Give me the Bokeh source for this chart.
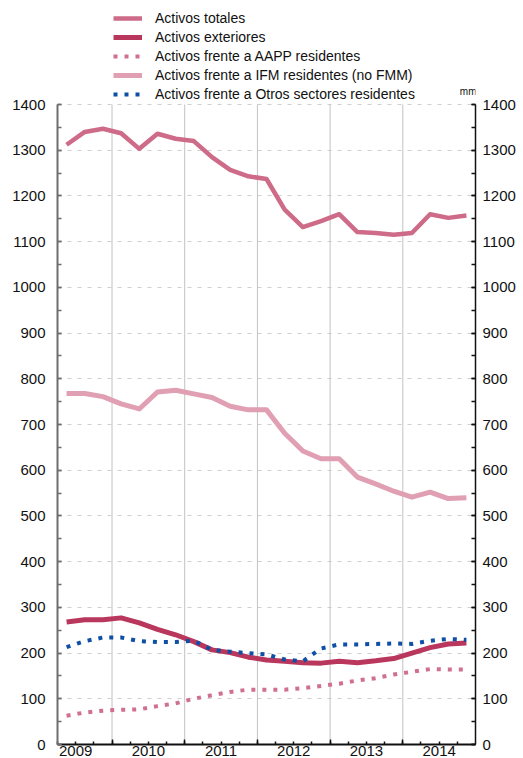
from bokeh.plotting import figure
from bokeh.models import (Range1d, LinearAxis, FixedTicker, Legend, LegendItem, Label)
from bokeh.embed import file_html
from bokeh.resources import INLINE

# ---- data (mm EUR), quarterly 2009Q2 .. 2014Q4 ----
periods = ["2009Q2", "2009Q3", "2009Q4",
           "2010Q1", "2010Q2", "2010Q3", "2010Q4",
           "2011Q1", "2011Q2", "2011Q3", "2011Q4",
           "2012Q1", "2012Q2", "2012Q3", "2012Q4",
           "2013Q1", "2013Q2", "2013Q3", "2013Q4",
           "2014Q1", "2014Q2", "2014Q3", "2014Q4"]
activos_totales = [1312, 1340, 1347, 1337, 1303, 1336, 1325, 1320, 1285, 1257, 1243, 1237,
                   1170, 1132, 1145, 1160, 1121, 1119, 1115, 1119, 1160, 1152, 1157]
activos_exteriores = [268, 273, 273, 277, 266, 252, 240, 225, 207, 201, 191, 185,
                      182, 179, 178, 182, 179, 183, 188, 200, 212, 220, 222]
activos_aapp = [63, 70, 74, 76, 77, 84, 90, 100, 108, 115, 120, 120,
                120, 123, 128, 133, 140, 145, 153, 159, 165, 164, 164]
activos_ifm = [768, 768, 761, 745, 734, 771, 775, 767, 759, 740, 732, 732,
               681, 642, 625, 625, 585, 570, 554, 541, 552, 538, 540]
activos_otros = [213, 226, 234, 234, 226, 224, 224, 227, 207, 203, 200, 197,
                 186, 182, 210, 219, 219, 220, 221, 220, 227, 231, 229]
years = [2009, 2010, 2011, 2012, 2013, 2014]
y_ticks = list(range(0, 1401, 100))

labels = ["Activos totales", "Activos exteriores", "Activos frente a AAPP residentes",
          "Activos frente a IFM residentes (no FMM)", "Activos frente a Otros sectores residentes"]

# quarter -> mid-quarter position in years
x = [int(p[:4]) + (int(p[5]) - 0.5) / 4 for p in periods]
x_start = x[0] - 0.125
x_end = x[-1] + 0.125
y_min, y_max = y_ticks[0], y_ticks[-1]

FONT = "Liberation Sans"

# frame extends above the value axis to host the legend
p = figure(frame_width=418, frame_height=736, output_backend="svg", toolbar_location=None,
           x_range=Range1d(x_start, x_end), y_range=Range1d(y_min, 1610),
           min_border_left=57, min_border_right=46, min_border_top=8, min_border_bottom=0,
           x_axis_location=None, y_axis_location=None)
p.outline_line_color = None
p.background_fill_color = "white"
p.border_fill_color = "white"

# grids: dashed horizontal lines, solid vertical year separators limited to the value area
p.xgrid.visible = False
p.ygrid.ticker = FixedTicker(ticks=y_ticks[1:])
p.ygrid.grid_line_color = "#cfcfcf"
p.ygrid.grid_line_dash = "4 6"
p.ygrid.grid_line_width = 1
bounds_years = years[1:]
p.segment(x0=bounds_years, y0=[y_min] * len(bounds_years), x1=bounds_years,
          y1=[y_max] * len(bounds_years), line_color="#c2c2c2", line_width=1)

# lines
r_ifm = p.line(x, activos_ifm, line_color="#e09fb3", line_width=5, line_join="round")
r_tot = p.line(x, activos_totales, line_color="#cd6b88", line_width=4.5, line_join="round")
r_aapp = p.line(x, activos_aapp, line_color="#d0708f", line_width=4, line_dash="4 7")
r_ext = p.line(x, activos_exteriores, line_color="#b9365c", line_width=5, line_join="round")
r_otr = p.line(x, activos_otros, line_color="#0f4fa5", line_width=4, line_dash="4 7")

# y axes
def style_y(ax, color, width, standoff):
    ax.bounds = (y_min, y_max)
    ax.ticker = FixedTicker(ticks=y_ticks, minor_ticks=list(range(y_min, y_max + 1, 50)))
    ax.axis_line_color = color
    ax.axis_line_width = width
    ax.major_tick_line_color = color
    ax.minor_tick_line_color = color
    ax.major_tick_line_width = 1.5
    ax.minor_tick_line_width = 1.5
    ax.major_tick_in = 4
    ax.major_tick_out = 0
    ax.minor_tick_in = 4
    ax.minor_tick_out = 0
    ax.major_label_text_font = FONT
    ax.major_label_text_font_size = "15px"
    ax.major_label_text_color = "#111111"
    ax.major_label_standoff = standoff

yl = LinearAxis()
style_y(yl, "#6e6e6e", 2, 12)
p.add_layout(yl, "left")
yr = LinearAxis()
style_y(yr, "#111111", 1.5, 7)
p.add_layout(yr, "right")

# x axis: ticks at year boundaries and quarters
quarters = [years[0] + 0.25 * i for i in range(1, 4 * len(years))]
xa = LinearAxis()
xa.ticker = FixedTicker(ticks=bounds_years, minor_ticks=quarters)
xa.axis_line_color = "#111111"
xa.axis_line_width = 2
xa.major_tick_line_color = "#111111"
xa.minor_tick_line_color = "#111111"
xa.major_tick_line_width = 1.5
xa.minor_tick_line_width = 1.5
xa.major_tick_in = 5
xa.major_tick_out = 0
xa.minor_tick_in = 3
xa.minor_tick_out = 0
xa.major_label_overrides = {float(y): "" for y in bounds_years}
xa.major_label_text_font_size = "0px"
xa.major_label_standoff = 0
p.add_layout(xa, "below")

# x labels: centered in each year
xl = LinearAxis()
xl.ticker = FixedTicker(ticks=[y + 0.5 for y in years], minor_ticks=[])
xl.major_label_overrides = {y + 0.5: str(y) for y in years}
xl.axis_line_color = None
xl.major_tick_line_color = None
xl.minor_tick_line_color = None
xl.major_tick_in = 0
xl.major_tick_out = 0
xl.major_label_standoff = 1
xl.major_label_text_font = FONT
xl.major_label_text_font_size = "15px"
xl.major_label_text_color = "#111111"
p.add_layout(xl, "below")

# unit label
p.add_layout(Label(x=x_end, y=y_max, text="mm", text_align="right", text_baseline="bottom",
                   y_offset=8, x_offset=1, text_font=FONT, text_font_size="10px",
                   text_color="#111111"))

legend = Legend(items=[
    LegendItem(label=labels[0], renderers=[r_tot]),
    LegendItem(label=labels[1], renderers=[r_ext]),
    LegendItem(label=labels[2], renderers=[r_aapp]),
    LegendItem(label=labels[3], renderers=[r_ifm]),
    LegendItem(label=labels[4], renderers=[r_otr]),
], location=(56, 641), orientation="vertical")
legend.glyph_width = 29
legend.glyph_height = 18
legend.label_height = 18
legend.spacing = 1
legend.padding = 0
legend.margin = 0
legend.label_standoff = 13
legend.label_text_font = FONT
legend.label_text_font_size = "14px"
legend.label_text_color = "#111111"
legend.border_line_color = None
legend.background_fill_alpha = 0
p.add_layout(legend, "center")

open("out.html", "w").write(file_html(p, INLINE))
